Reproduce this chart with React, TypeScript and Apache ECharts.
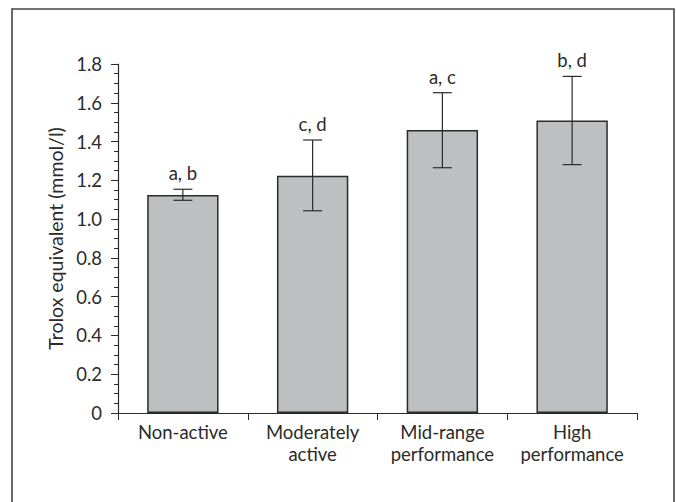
import React, { useEffect, useRef } from "react";
import * as echarts from "echarts";

const categories = ["Non-active", "Moderately\nactive", "Mid-range\nperformance", "High\nperformance"];
const means = [1.124, 1.224, 1.459, 1.509];
const errLow = [1.097, 1.043, 1.265, 1.281];
const errHigh = [1.154, 1.408, 1.652, 1.736];
const groupLabels = ["a, b", "c, d", "a, c", "b, d"];
const yTicks = { min: 0, max: 1.8, interval: 0.2 };

const FONT = "Lato, sans-serif";
const INK = "#2b2b2b";
const FS = 18.5;

export default function App() {
  const ref = useRef<HTMLDivElement>(null);
  useEffect(() => {
    if (!ref.current) return;
    const chart = echarts.init(ref.current, null, { renderer: "svg" });
    const errData = categories.map((_, i) => [i, errLow[i], errHigh[i], groupLabels[i]]);
    chart.setOption({
      animation: false,
      backgroundColor: "#ffffff",
      textStyle: { fontFamily: FONT },
      graphic: [
        {
          type: "rect",
          shape: { x: 12, y: 9, width: 662, height: 520 },
          style: { fill: "none", stroke: "#444", lineWidth: 1.6 },
          silent: true,
        },
      ],
      grid: { left: 118, right: 39, top: 64, bottom: 89 },
      xAxis: {
        type: "category",
        data: categories,
        axisLine: { lineStyle: { color: INK, width: 1.2 } },
        axisTick: { show: true, length: 7, lineStyle: { color: INK, width: 1 } },
        axisLabel: {
          color: INK,
          fontSize: FS,
          fontFamily: FONT,
          margin: 8,
          lineHeight: 22.3,
          interval: 0,
          hideOverlap: false,
        },
      },
      yAxis: {
        type: "value",
        min: yTicks.min,
        max: yTicks.max,
        interval: yTicks.interval,
        name: "Trolox equivalent (mmol/l)",
        nameLocation: "middle",
        nameGap: 52,
        nameTextStyle: { color: INK, fontSize: 19.5, fontFamily: FONT },
        axisLine: { show: true, lineStyle: { color: INK, width: 1.2 } },
        axisTick: { show: true, length: 7, lineStyle: { color: INK, width: 1 } },
        minorTick: { show: true, splitNumber: 4, length: 4, lineStyle: { color: INK, width: 1 } },
        splitLine: { show: false },
        axisLabel: {
          color: INK,
          fontSize: FS,
          fontFamily: FONT,
          margin: 16,
          formatter: (v: number) => (v === 0 ? "0" : v.toFixed(1)),
        },
      },
      series: [
        {
          type: "bar",
          data: means,
          barWidth: "55%",
          itemStyle: { color: "#bebfc1", borderColor: INK, borderWidth: 1.5 },
        },
        {
          type: "custom",
          data: errData,
          z: 10,
          renderItem: (params: any, api: any) => {
            const x = api.value(0);
            const lo = api.coord([x, api.value(1)]);
            const hi = api.coord([x, api.value(2)]);
            const hw = 9.5;
            const st = { stroke: INK, lineWidth: 1.2 };
            return {
              type: "group",
              children: [
                { type: "line", shape: { x1: hi[0], y1: hi[1], x2: lo[0], y2: lo[1] }, style: st },
                { type: "line", shape: { x1: hi[0] - hw, y1: hi[1], x2: hi[0] + hw, y2: hi[1] }, style: st },
                { type: "line", shape: { x1: lo[0] - hw, y1: lo[1], x2: lo[0] + hw, y2: lo[1] }, style: st },
                {
                  type: "text",
                  x: hi[0],
                  y: hi[1] - 16,
                  style: {
                    text: groupLabels[params.dataIndex],
                    fill: INK,
                    font: `${FS}px ${FONT}`,
                    align: "center",
                    verticalAlign: "middle",
                  },
                },
              ],
            };
          },
        },
      ],
    });
    return () => chart.dispose();
  }, []);
  return <div ref={ref} style={{ position: "fixed", left: 0, top: 0, width: 676, height: 502 }} />;
}
